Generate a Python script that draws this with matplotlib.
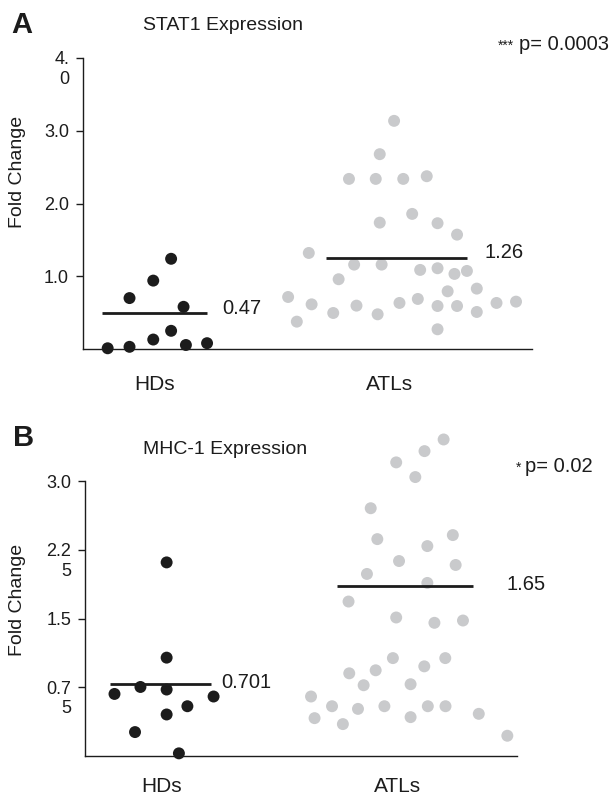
import matplotlib
matplotlib.use("Agg")
import matplotlib.pyplot as plt
import matplotlib.transforms as mtransforms
import numpy as np

plt.rcParams['font.family'] = ['Liberation Sans', 'DejaVu Sans']

# ---------------- data ----------------
categories = ["HDs", "ATLs"]

# Panel A: STAT1 expression (fold change)
stat1_hd = [0.01, 0.03, 0.13, 0.25, 0.055, 0.08, 0.70, 0.94, 1.24, 0.58]
stat1_hd_jitter = [-0.201, -0.108, -0.007, 0.069, 0.132, 0.222, -0.108, -0.007, 0.069, 0.122]
stat1_atl = [3.136, 2.678, 2.338, 2.338, 2.338, 2.375, 1.737, 1.857, 1.729, 1.572,
             1.320, 1.160, 1.160, 1.087, 1.110, 1.032, 1.073, 0.959, 0.715, 0.614,
             0.495, 0.596, 0.477, 0.376, 0.633, 0.688, 0.591, 0.793, 0.591, 0.830,
             0.509, 0.633, 0.651, 0.271]
stat1_atl_jitter = [0.018, -0.043, -0.174, -0.060, 0.057, 0.157, -0.043, 0.095, 0.203, 0.286,
                    -0.345, -0.152, -0.035, 0.129, 0.203, 0.275, 0.328, -0.218, -0.433, -0.333,
                    -0.241, -0.142, -0.052, -0.396, 0.041, 0.119, 0.203, 0.246, 0.286, 0.370,
                    0.370, 0.454, 0.537, 0.203]
stat1_lines = [0.49, 1.25]
stat1_labels = ["0.47", "1.26"]
stat1_p = "p= 0.0003"
stat1_stars = "***"
stat1_yticks = [1.0, 2.0, 3.0, 4.0]
stat1_yticklabels = ["1.0", "2.0", "3.0", "4.\n0"]

# Panel B: MHC-1 expression (fold change)
mhc_hd = [1.073, 0.753, 0.725, 0.677, 0.649, 0.543, 0.453, 0.261, 0.029, 2.112]
mhc_hd_jitter = [0.021, -0.090, 0.021, -0.200, 0.220, 0.109, 0.021, -0.113, 0.073, 0.021]
mhc_atl = [3.453, 3.326, 3.203, 3.043, 2.703, 2.366, 2.410, 2.290, 2.127, 2.084,
           1.986, 1.888, 1.685, 1.511, 1.453, 1.478, 1.068, 1.068, 0.978, 0.935,
           0.902, 0.772, 0.783, 0.649, 0.543, 0.514, 0.543, 0.543, 0.543, 0.413,
           0.348, 0.424, 0.460, 0.221]
mhc_atl_jitter = [0.195, 0.114, -0.006, 0.075, -0.114, -0.086, 0.234, 0.126, 0.006, 0.246,
                  -0.130, 0.126, -0.208, -0.006, 0.156, 0.277, -0.020, 0.202, 0.113, -0.093,
                  -0.205, -0.144, 0.055, -0.367, -0.278, -0.168, -0.056, 0.128, 0.203, -0.352,
                  -0.232, 0.055, 0.344, 0.465]
mhc_lines = [0.786, 1.851]
mhc_labels = ["0.701", "1.65"]
mhc_p = "p= 0.02"
mhc_stars = "*"
mhc_yticks = [0.75, 1.5, 2.25, 3.0]
mhc_yticklabels = ["0.7\n5", "1.5", "2.2\n5", "3.0"]

# ---------------- style ----------------
W, H = 614, 797
BLACK = "#1c1c1c"
GRAY = "#c9cacc"
MS = 74

fig = plt.figure(figsize=(W / 100, H / 100), dpi=100)


def fx(px):
    return px / W


def fy(py):
    return 1 - py / H


def panel(rect, xlim, ylim, hd, hdj, atl, atlj, lines, labels, line_ext, lab_dx,
          lab_dy, yticks, yticklabels, xpad):
    ax = fig.add_axes(rect)
    pos = np.arange(1, len(categories) + 1)
    ax.scatter(pos[0] + np.array(hdj), hd, s=MS, color=BLACK, edgecolors="none",
               clip_on=False, zorder=3)
    ax.scatter(pos[1] + np.array(atlj), atl, s=MS, color=GRAY, edgecolors="none",
               clip_on=False, zorder=2)
    for i, (lv, lt) in enumerate(zip(lines, labels)):
        ax.plot([pos[i] + line_ext[i][0], pos[i] + line_ext[i][1]], [lv, lv],
                color=BLACK, lw=2.0, solid_capstyle="butt", zorder=4)
        ax.text(pos[i] + lab_dx[i], lv + lab_dy, lt, fontsize=14.5, color=BLACK,
                ha="left", va="center")
    ax.set_xlim(*xlim)
    ax.set_ylim(*ylim)
    for s in ("top", "right"):
        ax.spines[s].set_visible(False)
    for s in ("left", "bottom"):
        ax.spines[s].set_linewidth(1.0)
        ax.spines[s].set_color(BLACK)
    ax.set_xticks(pos, categories)
    ax.tick_params(axis="x", length=0, pad=xpad, labelsize=15, colors=BLACK)
    ax.set_yticks(yticks, yticklabels)
    ax.tick_params(axis="y", length=5, width=1.0, pad=5, labelsize=13, colors=BLACK)
    off = mtransforms.ScaledTranslation(0, 6.5 / 100, fig.dpi_scale_trans)
    for lab in ax.get_yticklabels():
        if "\n" in lab.get_text():
            lab.set_va("top")
            lab.set_transform(lab.get_transform() + off)
    return ax


# Panel A
panel([fx(83), fy(349), fx(532) - fx(83), fy(58) - fy(349)],
      (0.694, 2.605), (0, 4.0), stat1_hd, stat1_hd_jitter, stat1_atl, stat1_atl_jitter,
      stat1_lines, stat1_labels, [(-0.227, 0.222), (-0.272, 0.328)], [0.285, 0.404], 0.07,
      stat1_yticks, stat1_yticklabels, 18.5)

# Panel B
panel([fx(85), fy(756), fx(517) - fx(85), fy(481) - fy(756)],
      (0.675, 2.506), (0, 3.0), mhc_hd, mhc_hd_jitter, mhc_atl, mhc_atl_jitter,
      mhc_lines, mhc_labels, [(-0.220, 0.211), (-0.256, 0.321)], [0.254, 0.461], 0.02,
      mhc_yticks, mhc_yticklabels, 15)

# Annotations
fig.text(fx(11), fy(25), "A", fontsize=21, fontweight="bold", ha="left", va="center", color=BLACK)
fig.text(fx(143), fy(26), "STAT1 Expression", fontsize=14, ha="left", va="center", color=BLACK)
fig.text(fx(519), fy(50), stat1_p, fontsize=14.5, ha="left", va="baseline", color=BLACK)
fig.text(fx(514), fy(50), stat1_stars, fontsize=10, ha="right", va="baseline", color=BLACK)
fig.text(fx(18), fy(172), "Fold Change", fontsize=14, rotation=90, ha="center", va="center", color=BLACK)

fig.text(fx(13), fy(438), "B", fontsize=21, fontweight="bold", ha="left", va="center", color=BLACK)
fig.text(fx(143), fy(450), "MHC-1 Expression", fontsize=14, ha="left", va="center", color=BLACK)
fig.text(fx(525), fy(472), mhc_p, fontsize=14.5, ha="left", va="baseline", color=BLACK)
fig.text(fx(521), fy(472), mhc_stars, fontsize=10, ha="right", va="baseline", color=BLACK)
fig.text(fx(18), fy(600), "Fold Change", fontsize=14, rotation=90, ha="center", va="center", color=BLACK)

fig.savefig("out.png", dpi=100)
